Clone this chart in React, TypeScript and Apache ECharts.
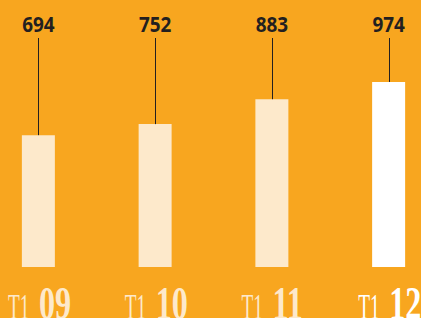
import React, { useEffect, useRef } from "react";
import * as echarts from "echarts";

const categories = ["09", "10", "11", "12"];
const prefix = "T1";
const values = [694, 752, 883, 974];

const BG = "#F8A61F";
const CREAM = "#FDE9CB";
const WHITE = "#FFFFFF";
const INK = "#231F20";

export default function App() {
  const ref = useRef<HTMLDivElement>(null);
  useEffect(() => {
    if (!ref.current) return;
    const chart = echarts.init(ref.current, null, { renderer: "svg" });
    const last = categories.length - 1;
    chart.setOption({
      animation: false,
      backgroundColor: BG,
      grid: { left: 0, right: 0, top: 20, bottom: 51, containLabel: false, outerBoundsMode: "none" },
      xAxis: {
        type: "category",
        data: categories,
        axisLine: { show: false },
        axisTick: { show: false },
        splitLine: { show: false },
        axisLabel: { show: false },
      },
      yAxis: {
        type: "value",
        min: 0,
        max: 1300,
        show: false,
        splitLine: { show: false },
      },
      series: [
        {
          type: "bar",
          data: values,
          barWidth: 33,
          itemStyle: {
            color: (p: any) => (p.dataIndex === last ? WHITE : CREAM),
          },
        },
        {
          type: "custom",
          data: values.map((v, i) => [i, v]),
          z: 5,
          renderItem: (params: any, api: any) => {
            const idx = api.value(0);
            const pt = api.coord([idx, api.value(1)]);
            const c = pt[0];
            const x = Math.round(c) + 0.5;
            const col = idx === last ? WHITE : CREAM;
            return {
              type: "group",
              children: [
                {
                  type: "line",
                  shape: { x1: x, y1: 38, x2: x, y2: pt[1] },
                  style: { stroke: INK, lineWidth: 1 },
                },
                {
                  type: "text",
                  x: c,
                  y: 23.5,
                  scaleX: 0.86,
                  style: {
                    text: String(api.value(1)),
                    x: 0,
                    y: 0,
                    align: "center",
                    verticalAlign: "middle",
                    fontFamily: "'Open Sans', sans-serif",
                    fontWeight: "bold",
                    fontSize: 22,
                    fill: INK,
                  },
                },
                {
                  type: "text",
                  x: c - 30.5,
                  y: 307.2,
                  scaleX: 0.55,
                  style: {
                    text: prefix,
                    x: 0,
                    y: 0,
                    align: "left",
                    verticalAlign: "middle",
                    fontFamily: "'Liberation Serif', serif",
                    fontSize: 35,
                    fill: col,
                  },
                },
                {
                  type: "text",
                  x: c + 0.5,
                  y: 303.5,
                  scaleX: 0.7,
                  style: {
                    text: categories[idx],
                    x: 0,
                    y: 0,
                    align: "left",
                    verticalAlign: "middle",
                    fontFamily: "'Liberation Serif', serif",
                    fontWeight: "bold",
                    fontSize: 46,
                    fill: col,
                  },
                },
              ],
            };
          },
        },
      ],
    });
    return () => chart.dispose();
  }, []);
  return (
    <div style={{ position: "fixed", left: 0, top: 0, width: 421, height: 318, overflow: "hidden" }}>
      <div
        ref={ref}
        style={{ position: "absolute", left: -20, top: 0, width: 467, height: 318 }}
      />
    </div>
  );
}
